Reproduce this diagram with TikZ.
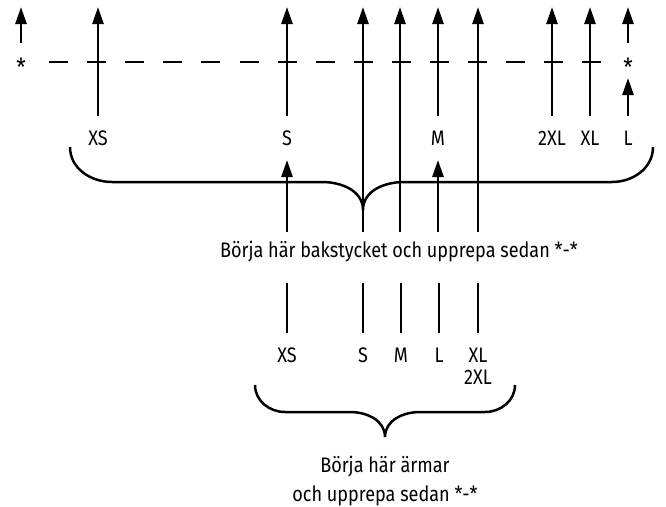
\documentclass[tikz,border=0pt]{standalone}
\usepackage{fontspec}
\setmainfont[FakeStretch=0.86]{Fira Sans}
\usetikzlibrary{arrows.meta}

\begin{document}
\begin{tikzpicture}[x=1pt, y=-1pt,
    lbl/.style={font=\fontsize{21}{29}\selectfont, inner sep=0pt},
    repstar/.style={font=\fontsize{25}{29}\selectfont, inner sep=0pt},
    up/.style={-{Triangle[length=17pt,width=11pt]}, line width=2.6pt},
    tick/.style={line width=2.6pt},
    brace/.style={line width=2.5pt},
    repeatline/.style={line width=2.6pt, dash pattern=on 19pt off 19.1pt}]
  \useasboundingbox (0,0) rectangle (666,506);
  % top row of sizes
  \foreach \n/\x/\t in {xs/98/XS, s/287/S, m/438/M, xxl/552/2XL, xl/590/XL, l/628/L}{
    \node[lbl] (\n) at (\x,138) {\t};
    \coordinate (\n-foot) at (\x,116);
    \coordinate (\n-tip) at (\x,7);
  }
  \node[repstar] (star-a) at (21,67) {*};
  \node[repstar] (star-b) at (628,67) {*};
  \coordinate (rep-a) at (49,62);
  \coordinate (rep-b) at (602,62);
  \coordinate (star-a-tip) at (21,7);
  \coordinate (star-a-foot) at (21,43);
  \coordinate (l-mid) at (628,43);
  \coordinate (l-low) at (628,78);
  \draw[repeatline] (rep-a) -- (rep-b);
  \foreach \n in {xs,s,m,xxl,xl}
    \draw[up] (\n-foot) -- (\n-tip);
  \draw[up] (star-a-foot) -- (star-a-tip);
  \draw[up] (l-mid) -- (l-tip);
  \draw[up] (l-foot) -- (l-low);
  % back piece
  \foreach \n/\x in {b1/363, b2/400, b3/478}{
    \coordinate (\n-foot) at (\x,232);
    \coordinate (\n-tip) at (\x,7);
    \draw[up] (\n-foot) -- (\n-tip);
  }
  \foreach \n/\x in {b4/287, b5/438}{
    \coordinate (\n-foot) at (\x,232);
    \coordinate (\n-tip) at (\x,160);
    \draw[up] (\n-foot) -- (\n-tip);
  }
  \draw[brace] (70,147) to[out=-90,in=180] (112,182) -- (322,182)
    to[out=0,in=90] (363,210) to[out=90,in=180] (404,182) -- (612,182)
    to[out=0,in=-90] (653,147);
  \node[lbl] (back) at (399,252) {Börja här bakstycket och upprepa sedan *-*};
  % sleeves
  \foreach \n/\x/\t in {sxs/287/XS, ss/363/S, sm/401/M, sl/439/L, sxl/478/XL}{
    \node[lbl] (\n) at (\x,355) {\t};
    \coordinate (\n-top) at (\x,283);
    \coordinate (\n-bot) at (\x,333);
    \draw[tick] (\n-top) -- (\n-bot);
  }
  \node[lbl] (sxxl) at (478,377) {2XL};
  \draw[brace] (255,385) to[out=-90,in=180] (285,412) -- (350,412)
    to[out=0,in=90] (385,437) to[out=90,in=180] (420,412) -- (485,412)
    to[out=0,in=-90] (515,385);
  \node[lbl, align=center] (sleeve) at (385,481) {Börja här ärmar\\och upprepa sedan *-*};
\end{tikzpicture}
\end{document}
